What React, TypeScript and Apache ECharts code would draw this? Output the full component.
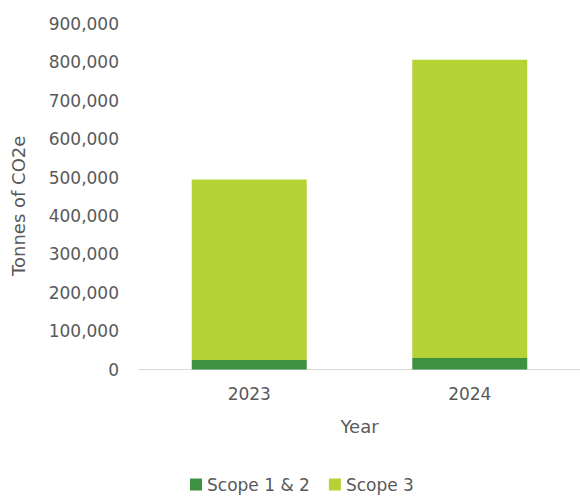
import React, { useEffect, useRef } from "react";
import * as echarts from "echarts";

const years = ["2023", "2024"];
const scope12 = [24500, 30000];
const scope3 = [470500, 777000];
const yTicks = [0, 100000, 200000, 300000, 400000, 500000, 600000, 700000, 800000, 900000];

export default function App() {
  const ref = useRef<HTMLDivElement>(null);
  useEffect(() => {
    if (!ref.current) return;
    const chart = echarts.init(ref.current, null, { renderer: "svg" });
    const font = "DejaVu Sans, sans-serif";
    const grey = "#595959";
    chart.setOption({
      animation: false,
      backgroundColor: "#ffffff",
      grid: { left: 139, top: 24, width: 446, height: 345.5, containLabel: false },
      legend: {
        top: 476,
        left: 190,
        padding: 0,
        itemWidth: 12,
        itemHeight: 12,
        itemGap: 19,
        icon: "rect",
        textStyle: { color: grey, fontSize: 17, fontFamily: font },
        data: ["Scope 1 & 2", "Scope 3"],
      },
      xAxis: {
        type: "category",
        data: years,
        name: "Year",
        nameLocation: "middle",
        nameGap: 48,
        nameTextStyle: { color: grey, fontSize: 18, fontFamily: font },
        axisLine: { lineStyle: { color: "#d9d9d9", width: 1 } },
        axisTick: { show: false },
        axisLabel: { color: grey, fontSize: 17, fontFamily: font, margin: 16 },
      },
      yAxis: {
        type: "value",
        min: yTicks[0],
        max: yTicks[yTicks.length - 1],
        interval: 100000,
        name: "Tonnes of CO2e",
        nameLocation: "middle",
        nameGap: 112,
        nameTextStyle: { color: grey, fontSize: 18, fontFamily: font, padding: [0, 18, 0, 0] },
        axisLine: { show: false },
        axisTick: { show: false },
        splitLine: { show: false },
        axisLabel: {
          color: grey,
          fontSize: 17,
          fontFamily: font,
          margin: 20,
          formatter: (v: number) => v.toLocaleString("en-US"),
        },
      },
      series: [
        {
          name: "Scope 1 & 2",
          type: "bar",
          stack: "total",
          data: scope12,
          barWidth: 115,
          itemStyle: { color: "#3f9142" },
        },
        {
          name: "Scope 3",
          type: "bar",
          stack: "total",
          data: scope3,
          barWidth: 115,
          itemStyle: { color: "#b5d334" },
        },
      ],
    });
    return () => chart.dispose();
  }, []);
  return (
    <div
      ref={ref}
      style={{ position: "fixed", left: 0, top: 0, width: 580, height: 496, background: "#fff" }}
    />
  );
}
